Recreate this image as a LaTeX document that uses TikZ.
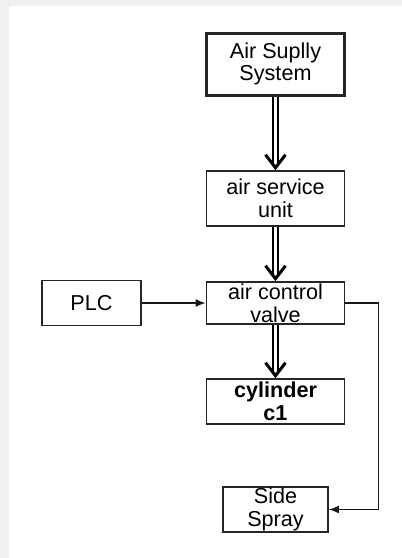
\documentclass[tikz,border=0pt]{standalone}
\usepackage{fontspec}
\setmainfont{Liberation Sans}
\usetikzlibrary{arrows.meta, positioning}

\begin{document}
\begin{tikzpicture}[x=0.5pt, y=-0.5pt, >=Latex, font=\fontsize{10.8}{11.4}\selectfont]
    \tikzstyle{unit} = [rectangle, draw=black!85, line width=0.8pt, minimum width=69pt, align=center, inner sep=0pt]
    \tikzstyle{feed} = [draw=black, line width=1.1pt, double=white, double distance=1.7pt, -{Straight Barb[length=6.5pt, width=10pt, line width=1.5pt]}]
    \tikzstyle{signal} = [-{Latex[length=5pt, width=4pt]}, line width=0.75pt, draw=black!90]

    % page edge
    \useasboundingbox (0,0) rectangle (402,558);
    \fill[black!6] (0,0) rectangle (402,6);
    \fill[black!6] (0,0) rectangle (9,558);

    \node [unit, line width=1.5pt, minimum height=31pt] (supply) at (275.5,64) {Air Suplly\\System};
    \node [unit, minimum height=27.5pt, below of=supply, node distance=67.25pt] (service) {air service\\unit};
    \node [unit, minimum height=21pt, below of=service, node distance=52.25pt] (valve) {air control\\valve};
    \node [unit, minimum height=22.5pt, below of=valve, node distance=49.25pt, font=\fontsize{10.8}{11.4}\selectfont\bfseries] (cyl) {cylinder\\c1};
    \node [unit, minimum width=49.5pt, minimum height=22.5pt, left of=valve, node distance=92pt] (plc) {PLC};
    \node [unit, minimum width=52.5pt, minimum height=22.5pt, below of=cyl, node distance=54pt] (spray) {Side\\Spray};

    % air lines
    \draw [feed] (supply) -- (service);
    \draw [feed] (service) -- (valve);
    \draw [feed] (valve) -- (cyl);

    % control lines
    \draw [signal] (plc) -- (valve);
    \draw [signal] (valve.east) -- ++(33,0) |- (spray.east);
\end{tikzpicture}
\end{document}
